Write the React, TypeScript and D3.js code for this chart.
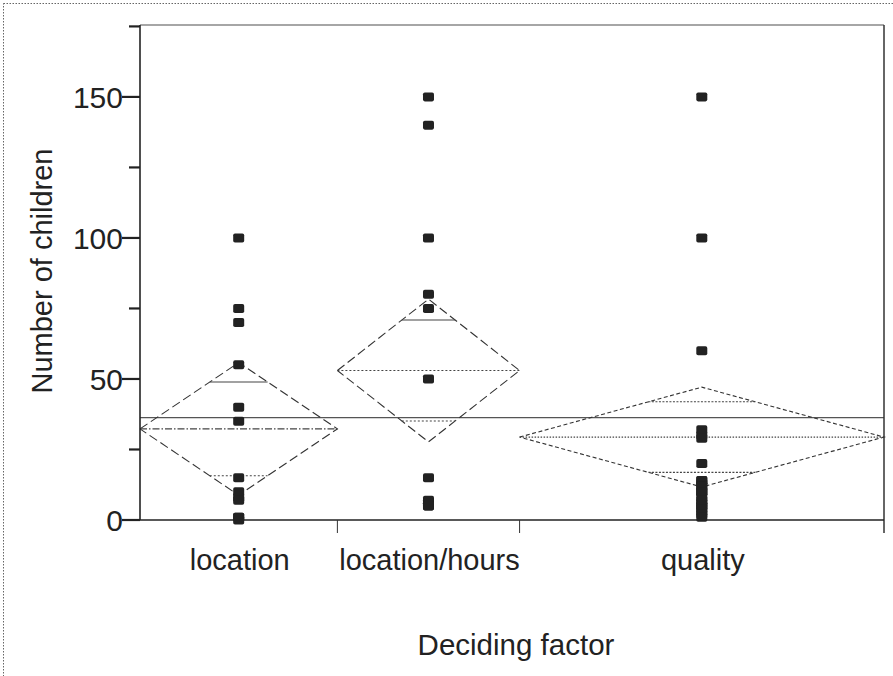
import React from "react";
import * as d3 from "d3";

// Groups, sample sizes and observed values
const categories = ["location", "location/hours", "quality"];
const groupCounts = [13, 12, 24];
const locationValues = [100, 75, 70, 55, 40, 35, 15, 10, 8, 7, 1, 1, 0];
const locationHoursValues = [150, 140, 100, 80, 75, 50, 15, 7, 6, 6, 5, 5];
const qualityValues = [
  150, 100, 60, 32, 30, 29, 20, 14, 14, 13, 12, 12, 10, 10, 10, 8, 7, 6, 5, 5, 4, 3, 2, 1,
];
// Group means and 95% confidence half-widths (means diamonds)
const groupMeans = [32.3, 53, 29.4];
const groupCI = [23.5, 25.3, 17.7];
const grandMean = 36.3;

const yMajorTicks = [0, 50, 100, 150];
const yMinorTicks = [25, 75, 125, 175];

const W = 893;
const H = 676;
const left = 140;
const right = 884;
const top = 25;
const bottom = 520;
const FONT = "'Liberation Sans', Arial, Helvetica, sans-serif";

const diamondDash = ["9,4", "9,4", "4,2.5"];
const meanDash = ["7,2,1.5,2", "2,2", "1.5,1.5"];
const upperOverlapDash = ["none", "none", "2,1.5"];
const lowerOverlapDash = ["2,2", "2,2", "2,1.5"];

export default function App() {
  const groups = [locationValues, locationHoursValues, qualityValues];
  const total = d3.sum(groupCounts);
  const x = d3.scaleLinear().domain([0, total]).range([left, right]);
  const y = d3.scaleLinear().domain([0, 175.5]).range([bottom, top]);
  const cum = [0, ...d3.cumsum(groupCounts)];
  const bands = categories.map((c, i) => ({
    name: c,
    x0: x(cum[i]),
    x1: x(cum[i + 1]),
    xc: (x(cum[i]) + x(cum[i + 1])) / 2,
  }));

  const line = d3.line<[number, number]>();

  return (
    <svg
      width={W}
      height={H}
      style={{ position: "absolute", left: 0, top: 0, background: "#fff" }}
      fontFamily={FONT}
    >
      <rect x={0} y={0} width={W} height={H} fill="#fff" />
      {/* outer dotted frame */}
      <rect
        x={3.5}
        y={3.5}
        width={W + 10}
        height={H + 10}
        fill="none"
        stroke="#666"
        strokeWidth={1}
        strokeDasharray="1.5,1.5"
      />

      {/* grand mean */}
      <line x1={left} x2={right} y1={y(grandMean)} y2={y(grandMean)} stroke="#555" strokeWidth={1.2} />

      {/* means diamonds */}
      {bands.map((b, i) => {
        const m = groupMeans[i];
        const ci = groupCI[i];
        const half = (b.x1 - b.x0) / 2;
        const pts: [number, number][] = [
          [b.x0, y(m)],
          [b.xc, y(m + ci)],
          [b.x1, y(m)],
          [b.xc, y(m - ci)],
          [b.x0, y(m)],
        ];
        const ov = ci / Math.SQRT2;
        const ovHalf = half * (1 - ov / ci);
        return (
          <g key={b.name}>
            <path d={line(pts) || ""} fill="none" stroke="#333" strokeWidth={1.1} strokeDasharray={diamondDash[i]} />
            <line x1={b.x0} x2={b.x1} y1={y(m)} y2={y(m)} stroke="#444" strokeWidth={1.1} strokeDasharray={meanDash[i]} />
            <line
              x1={b.xc - ovHalf}
              x2={b.xc + ovHalf}
              y1={y(m + ov)}
              y2={y(m + ov)}
              stroke="#444"
              strokeWidth={1.1}
              strokeDasharray={upperOverlapDash[i]}
            />
            <line
              x1={b.xc - ovHalf}
              x2={b.xc + ovHalf}
              y1={y(m - ov)}
              y2={y(m - ov)}
              stroke="#444"
              strokeWidth={1.1}
              strokeDasharray={lowerOverlapDash[i]}
            />
          </g>
        );
      })}

      {/* data points */}
      {groups.map((vals, i) =>
        vals.map((v, j) => (
          <rect
            key={`${i}-${j}`}
            x={bands[i].xc - 5.5}
            y={y(v) - 4.5}
            width={11}
            height={9}
            rx={1.8}
            fill="#222"
          />
        ))
      )}

      {/* frame */}
      <line x1={left} x2={right} y1={top} y2={top} stroke="#888" strokeWidth={1.5} />
      <line x1={right} x2={right} y1={top} y2={533} stroke="#333" strokeWidth={1.5} />
      <line x1={left} x2={right} y1={bottom} y2={bottom} stroke="#222" strokeWidth={1.6} />
      <line x1={left} x2={left} y1={top} y2={bottom} stroke="#222" strokeWidth={1.6} />

      {/* y ticks */}
      {yMajorTicks.map((t) => (
        <g key={t}>
          <line x1={122} x2={left} y1={y(t)} y2={y(t)} stroke="#222" strokeWidth={2.2} />
          <text x={123} y={y(t) + 11} textAnchor="end" fontSize={30} fill="#222">
            {t}
          </text>
        </g>
      ))}
      {yMinorTicks.map((t) => (
        <line key={t} x1={129} x2={left} y1={y(t)} y2={y(t)} stroke="#222" strokeWidth={2.2} />
      ))}

      {/* x band separators */}
      {bands.slice(0, -1).map((b) => (
        <line key={b.name} x1={b.x1} x2={b.x1} y1={bottom} y2={533} stroke="#333" strokeWidth={1} />
      ))}

      {/* category labels */}
      {bands.map((b) => (
        <text key={b.name} x={b.xc + 1} y={570} textAnchor="middle" fontSize={29} fill="#222">
          {b.name}
        </text>
      ))}

      {/* axis titles */}
      <text x={516} y={655} textAnchor="middle" fontSize={29.5} fill="#222">
        Deciding factor
      </text>
      <text
        transform={`translate(52, ${271}) rotate(-90)`}
        textAnchor="middle"
        fontSize={29}
        fill="#222"
      >
        Number of children
      </text>
    </svg>
  );
}
